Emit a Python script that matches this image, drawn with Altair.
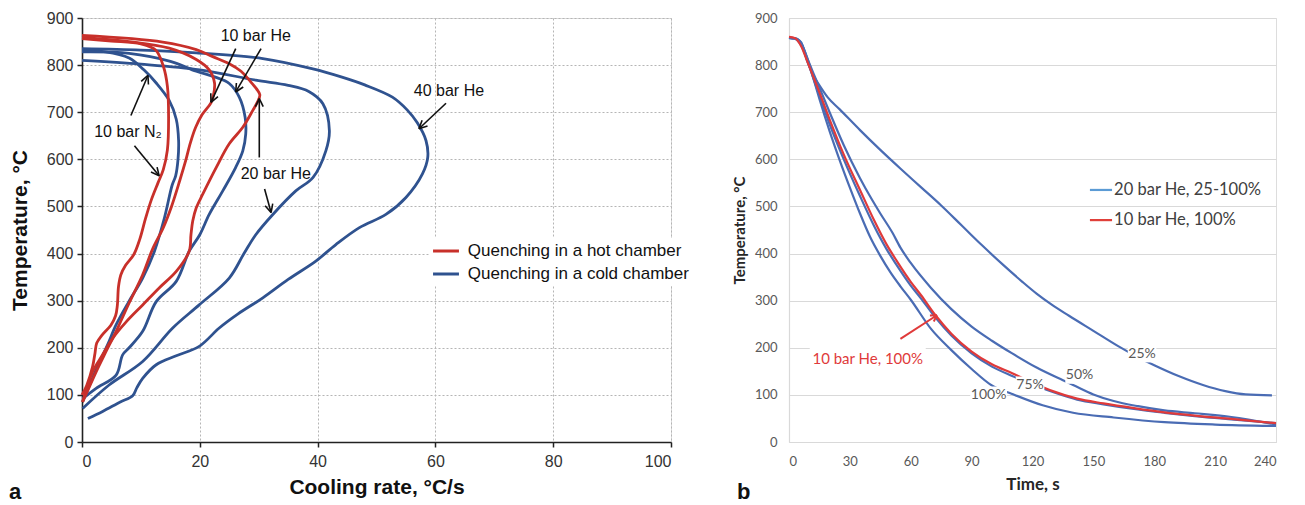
import math
import altair as alt
import pandas as pd

# ======================= Panel a : cooling rate vs temperature =======================
# hot chamber (red)
hot_n2_rate = [0, 5, 10, 12.5, 13.8, 14.5, 14.7, 14.5, 13.8, 12.9, 11.8, 10.8, 9.8, 8.8, 7.4, 6.6, 6.2, 6.0, 5.7, 4.9, 3.4, 2.5, 2.2, 1.8, 0.8, 0]
hot_n2_temp = [856, 851, 845, 832, 798, 755, 690, 620, 578, 550, 515, 475, 430, 398, 375, 355, 330, 290, 268, 248, 227, 210, 188, 160, 120, 100]
hot_he10_rate = [0, 8, 14.8, 19.4, 21.6, 22.5, 22.3, 21.9, 20.4, 19.3, 18.4, 17.6, 16.6, 15.2, 13.8, 12.0, 10.3, 8.0, 5.8, 4.0, 2.4, 1.0, 0.1]
hot_he10_temp = [859, 850, 836, 812, 790, 762, 735, 720, 695, 668, 635, 597, 555, 500, 455, 410, 355, 295, 235, 190, 149, 110, 85]
hot_he20_rate = [0, 13.7, 19.4, 22.2, 25.0, 27.0, 28.4, 29.6, 30.2, 29.8, 29.0, 27.3, 25.0, 22.8, 20.5, 19.4, 18.8, 18.5, 18.2, 16.0, 13.1, 10.3, 7.5, 5.2, 3.5, 1.8, 0.1]
hot_he20_temp = [863, 849, 833, 818, 803, 787, 768, 750, 737, 722, 704, 668, 633, 583, 526, 497, 469, 440, 405, 362, 327, 291, 255, 220, 185, 149, 85]
# cold chamber (blue)
cold_n2_rate = [0, 4, 8, 10.5, 12.6, 14.8, 16.0, 16.4, 16.3, 15.9, 15.3, 14.0, 12.3, 10.3, 8.0, 5.8, 4.3, 2.8, 1.6, 0.1]
cold_n2_temp = [830, 828, 815, 790, 762, 725, 685, 640, 600, 565, 545, 476, 405, 348, 299, 249, 205, 165, 130, 85]
cold_he10_rate = [0, 8, 15, 19.4, 22.5, 25.0, 26.7, 27.7, 27.8, 27.3, 26.1, 23.9, 21.6, 20.0, 18.2, 16.0, 12.6, 10.3, 8.0, 6.9, 5.8, 2.4, 0.1]
cold_he10_temp = [828, 825, 808, 787, 775, 761, 732, 689, 654, 618, 583, 533, 483, 440, 405, 341, 298, 235, 200, 185, 142, 114, 92]
cold_he20_rate = [0, 10, 20, 29.5, 35, 38.5, 40.9, 42.0, 41.4, 39.2, 36.3, 32.4, 29.5, 27.5, 25.0, 19.9, 15.4, 10.3, 4.6, 0.1]
cold_he20_temp = [810, 802, 790, 768, 757, 744, 718, 661, 618, 561, 533, 483, 440, 400, 348, 291, 242, 171, 121, 71]
cold_he40_rate = [0, 10, 19.4, 30.7, 39.2, 44, 48, 52.7, 55.2, 56.9, 58.4, 58.7, 57.8, 55.0, 51.6, 47.1, 43.1, 39.7, 35, 30.7, 26.5, 23.3, 19.9, 16, 12.6, 10.3, 9.3, 8.6, 6.5, 3.5, 1.0]
cold_he40_temp = [835, 832, 826, 814, 792, 775, 758, 732, 705, 678, 640, 604, 569, 519, 483, 455, 419, 384, 345, 306, 272, 242, 203, 183, 164, 135, 115, 98, 85, 65, 50]

legend_a_labels = ["Quenching in a hot chamber", "Quenching in a cold chamber"]
legend_a_colors = ["#c8302a", "#2f528f"]

notes_a_text = ["10 bar He", "20 bar He", "10 bar N\u2082", "40 bar He"]
notes_a_x = [29.5, 32.9, 7.8, 62.3]
notes_a_y = [861, 569, 658, 746]
# arrows: (from x, from y, tip x, tip y)
arrows_a = [(26.1, 835, 21.9, 721), (30.4, 835, 26.1, 743), (30.1, 604, 30.1, 729),
            (31.0, 537, 32.1, 487), (8.3, 693, 11.2, 778), (8.9, 629, 13.1, 565),
            (61.8, 719, 57.2, 665)]

# ======================= Panel b : time vs temperature =======================
p25_t = [0, 3, 6, 9, 12, 15, 19, 25, 35, 45, 55, 65, 75, 85, 95, 105, 115, 122, 130, 138, 150, 162, 172, 180, 192, 204, 215, 225, 238]
p25_T = [858, 857, 848, 808, 778, 757, 732, 706, 662, 620, 580, 541, 502, 460, 418, 378, 340, 315, 290, 268, 236, 204, 180, 163, 140, 121, 108, 101, 99]
p50_t = [0, 3, 6, 9, 12, 15, 20, 27, 35, 40, 45, 51, 55, 60, 70, 80, 90, 100, 110, 122, 135, 140, 150, 160, 172, 185, 200, 218, 240]
p50_T = [858, 857, 847, 815, 783, 752, 700, 630, 560, 521, 485, 444, 412, 380, 327, 282, 245, 215, 188, 158, 131, 121, 101, 87, 76, 67, 61, 53, 37]
p75_t = [0, 3, 6, 9, 12, 15, 20, 27, 35, 42, 48, 53, 60, 65, 72, 80, 90, 100, 110, 120, 130, 142, 155, 170, 185, 200, 218, 240]
p75_T = [858, 856, 842, 810, 772, 735, 675, 600, 522, 458, 410, 376, 332, 305, 265, 226, 188, 160, 140, 122, 106, 90, 80, 70, 62, 55, 48, 40]
p100_t = [0, 3, 6, 9, 12, 15, 20, 25, 30, 35, 40, 45, 50, 55, 60, 70, 80, 90, 100, 110, 125, 140, 160, 185, 210, 240]
p100_T = [858, 856, 845, 815, 772, 728, 660, 598, 540, 485, 435, 395, 360, 330, 302, 240, 195, 155, 120, 102, 78, 62, 52, 42, 37, 34]
r100_t = [0, 3, 6, 9, 12, 15, 20, 27, 35, 42, 48, 53, 60, 65, 72, 80, 90, 100, 110, 120, 130, 142, 155, 170, 185, 200, 218, 240]
r100_T = [860, 857, 840, 808, 775, 742, 685, 610, 535, 470, 420, 385, 340, 312, 270, 230, 192, 165, 146, 126, 108, 92, 82, 72, 63, 56, 49, 40]

legend_b_labels = ["20 bar He, 25-100%", "10 bar He, 100%"]
legend_b_colors = ["#5b9bd5", "#e0403a"]
pct_text = ["25%", "50%", "75%", "100%"]
pct_t = [174, 143.2, 118.8, 98.4]
pct_T = [187, 141.6, 121, 99.8]
red_note = "10 bar He, 100%"
red_note_t, red_note_T = 38.8, 176.8
red_arrow = (54.9, 219, 72.9, 269)

# ======================= layout constants =======================
WA, HA = 589, 424
WB, HB = 487, 424
RED_A, BLUE_A = legend_a_colors
BLUE_B, RED_B = "#4a6cb4", "#e03a3a"
FA = "Liberation Sans"
FB = "Lato"


def curve_df(curves):
    rows = []
    for name, xs, ys in curves:
        for i, (a, b) in enumerate(zip(xs, ys)):
            rows.append({"curve": name, "x": a, "y": b, "o": i})
    return pd.DataFrame(rows)


def arrow_rows(x0, y0, x1, y1, sx, sy, head=9.0, ang=26.0):
    dx, dy = (x1 - x0) * sx, (y1 - y0) * sy
    L = math.hypot(dx, dy)
    ux, uy = dx / L, dy / L
    rows = [dict(x=x0, y=y0, x2=x1, y2=y1)]
    for s in (1, -1):
        a = math.radians(ang) * s
        bx = ux * math.cos(a) - uy * math.sin(a)
        by = ux * math.sin(a) + uy * math.cos(a)
        rows.append(dict(x=x1 - head * bx / sx, y=y1 - head * by / sy, x2=x1, y2=y1))
    return rows


# ---------------- Panel a chart ----------------
sxa, sya = WA / 100, HA / 900
xa_scale = alt.Scale(domain=[0, 100], nice=False, zero=False)
ya_scale = alt.Scale(domain=[0, 900], nice=False, zero=False)
xa_axis = alt.Axis(values=list(range(0, 101, 20)), title="Cooling rate, \u00b0C/s", grid=True,
                   gridDash=[2, 2], gridColor="#b5b5b5", gridWidth=1, domainColor="#222222",
                   domainWidth=1.6, tickColor="#222222", tickWidth=1.5, tickSize=5,
                   labelFont=FA, labelFontSize=16, labelColor="#333333", labelPadding=6,
                   titleFont=FA, titleFontSize=21, titleFontWeight="bold", titleColor="#111111",
                   titlePadding=7)
ya_axis = alt.Axis(values=list(range(0, 901, 100)), title="Temperature, \u00b0C", grid=True,
                   gridDash=[2, 2], gridColor="#b5b5b5", gridWidth=1, domainColor="#222222",
                   domainWidth=1.6, tickColor="#222222", tickWidth=1.5, tickSize=5,
                   labelFont=FA, labelFontSize=16, labelColor="#333333", labelPadding=4,
                   titleFont=FA, titleFontSize=21, titleFontWeight="bold", titleColor="#111111",
                   titlePadding=16)
XA = alt.X("x:Q", scale=xa_scale, axis=xa_axis)
YA = alt.Y("y:Q", scale=ya_scale, axis=ya_axis)

cold_df = curve_df([("cold N2", cold_n2_rate, cold_n2_temp), ("cold He10", cold_he10_rate, cold_he10_temp),
                    ("cold He20", cold_he20_rate, cold_he20_temp), ("cold He40", cold_he40_rate, cold_he40_temp)])
hot_df = curve_df([("hot N2", hot_n2_rate, hot_n2_temp), ("hot He10", hot_he10_rate, hot_he10_temp),
                   ("hot He20", hot_he20_rate, hot_he20_temp)])

cold_lines = alt.Chart(cold_df).mark_line(interpolate="catmull-rom", strokeWidth=2.8, color=BLUE_A).encode(
    x=XA, y=YA, detail="curve:N", order="o:Q")
hot_lines = alt.Chart(hot_df).mark_line(interpolate="catmull-rom", strokeWidth=2.8, color=RED_A).encode(
    x=XA, y=YA, detail="curve:N", order="o:Q")

arr_a = []
for a in arrows_a:
    arr_a += arrow_rows(*a, sxa, sya)
arrows_a_chart = alt.Chart(pd.DataFrame(arr_a)).mark_rule(color="#111111", strokeWidth=1.6).encode(
    x=XA, y=YA, x2="x2:Q", y2="y2:Q")

notes_a_chart = alt.Chart(pd.DataFrame({"x": notes_a_x, "y": notes_a_y, "t": notes_a_text})).mark_text(
    font=FA, fontSize=16, color="#111111", align="center", baseline="middle").encode(x=XA, y=YA, text="t:N")

# legend (drawn in data space)
leg_box = alt.Chart(pd.DataFrame({"x": [58.9], "x2": [103.7], "y": [433], "y2": [331]})).mark_rect(
    fill="white").encode(x=XA, y=YA, x2="x2:Q", y2="y2:Q")
leg_rows = pd.DataFrame({"lab": legend_a_labels, "col": legend_a_colors, "y": [405.4, 356.6],
                         "x": [59.6, 59.6], "x2": [64.0, 64.0], "tx": [65.5, 65.5]})
leg_a_lines = alt.Chart(leg_rows).mark_rule(strokeWidth=3).encode(
    x=XA, y=YA, x2="x2:Q", color=alt.Color("col:N", scale=None))
leg_a_text = alt.Chart(leg_rows).mark_text(font=FA, fontSize=17, color="#111111", align="left",
                                             baseline="middle").encode(
    x=alt.X("tx:Q", scale=xa_scale, axis=xa_axis), y=YA, text="lab:N")

letter_a = alt.Chart(pd.DataFrame({"t": ["a"]})).mark_text(
    font=FA, fontSize=22, fontWeight="bold", color="#111111", align="left", baseline="alphabetic").encode(
    x=alt.value(-73), y=alt.value(481), text="t:N")

panel_a = alt.layer(cold_lines, hot_lines, arrows_a_chart, notes_a_chart, leg_box, leg_a_lines, leg_a_text,
                    letter_a).properties(width=WA, height=HA)

# ---------------- Panel b chart ----------------
sxb, syb = WB / 240, HB / 900
xb_scale = alt.Scale(domain=[0, 240], nice=False, zero=False)
yb_scale = alt.Scale(domain=[0, 900], nice=False, zero=False)
xb_axis = alt.Axis(values=list(range(0, 241, 30)), title="Time, s", grid=False, ticks=False,
                   domainColor="#d9d9d9", domainWidth=1.2, labelFont=FB, labelFontSize=13,
                   labelColor="#595959", labelPadding=13, titleFont=FB, titleFontSize=17,
                   titleFontWeight="bold", titleColor="#262626", titlePadding=8)
yb_axis = alt.Axis(values=list(range(0, 901, 100)), title="Temperature, \u00b0C", grid=True,
                   gridColor="#d9d9d9", gridWidth=1.2, ticks=False, domainColor="#d9d9d9",
                   domainWidth=1.2, labelFont=FB, labelFontSize=13, labelColor="#595959",
                   labelPadding=12, titleFont=FB, titleFontSize=15, titleFontWeight="bold",
                   titleColor="#262626", titlePadding=7)
XB = alt.X("x:Q", scale=xb_scale, axis=xb_axis)
YB = alt.Y("y:Q", scale=yb_scale, axis=yb_axis)

blue_b = curve_df([("25%", p25_t, p25_T), ("50%", p50_t, p50_T), ("75%", p75_t, p75_T), ("100%", p100_t, p100_T)])
red_b = curve_df([("10 bar", r100_t, r100_T)])
blue_b_lines = alt.Chart(blue_b).mark_line(interpolate="monotone", strokeWidth=2.2, color=BLUE_B).encode(
    x=XB, y=YB, detail="curve:N", order="o:Q")
red_b_lines = alt.Chart(red_b).mark_line(interpolate="monotone", strokeWidth=2.2, color=RED_B).encode(
    x=XB, y=YB, detail="curve:N", order="o:Q")

# white label boxes (Excel data labels)
box_rows = []
for txt, t, T in zip(pct_text, pct_t, pct_T):
    hw = (len(txt) * 8.2 + 4) / 2
    box_rows.append(dict(x=t - hw / sxb, x2=t + hw / sxb, y=T - 8.5 / syb, y2=T + 8.5 / syb))
box_rows.append(dict(x=red_note_t - 58 / sxb, x2=red_note_t + 58 / sxb, y=red_note_T - 9 / syb,
                     y2=red_note_T + 13 / syb))
boxes_b = alt.Chart(pd.DataFrame(box_rows)).mark_rect(fill="white").encode(x=XB, y=YB, x2="x2:Q", y2="y2:Q")
pct_chart = alt.Chart(pd.DataFrame({"x": pct_t, "y": pct_T, "t": pct_text})).mark_text(
    font=FB, fontSize=14, color="#595959", align="center", baseline="middle").encode(x=XB, y=YB, text="t:N")
red_note_chart = alt.Chart(pd.DataFrame({"x": [red_note_t], "y": [red_note_T], "t": [red_note]})).mark_text(
    font=FB, fontSize=15, color="#e03a3a", align="center", baseline="middle").encode(x=XB, y=YB, text="t:N")
red_arrow_chart = alt.Chart(pd.DataFrame(arrow_rows(*red_arrow, sxb, syb, head=7, ang=30))).mark_rule(
    color="#e03a3a", strokeWidth=2).encode(x=XB, y=YB, x2="x2:Q", y2="y2:Q")

leg_b_rows = pd.DataFrame({"lab": legend_b_labels, "col": legend_b_colors, "y": [535, 471],
                           "x": [148.3, 148.3], "x2": [159.2, 159.2], "tx": [160.2, 160.2]})
leg_b_lines = alt.Chart(leg_b_rows).mark_rule(strokeWidth=2.2).encode(
    x=XB, y=YB, x2="x2:Q", color=alt.Color("col:N", scale=None))
leg_b_text = alt.Chart(leg_b_rows).mark_text(font=FB, fontSize=16.5, color="#404040", align="left",
                                               baseline="middle").encode(
    x=alt.X("tx:Q", scale=xb_scale, axis=xb_axis), y=YB, text="lab:N")

letter_b = alt.Chart(pd.DataFrame({"t": ["b"]})).mark_text(
    font=FA, fontSize=22, fontWeight="bold", color="#111111", align="left", baseline="alphabetic").encode(
    x=alt.value(-52), y=alt.value(481), text="t:N")

panel_b = alt.layer(blue_b_lines, red_b_lines, boxes_b, pct_chart, red_note_chart, red_arrow_chart,
                    leg_b_lines, leg_b_text, letter_b).properties(width=WB, height=HB)

chart = alt.hconcat(panel_a, panel_b, spacing=37).properties(
    padding={"left": 0, "top": 1, "right": 0, "bottom": 0}
).configure_view(stroke=None).configure(background="white")

chart.save("out.html", embed_options={"renderer": "svg", "actions": False})
